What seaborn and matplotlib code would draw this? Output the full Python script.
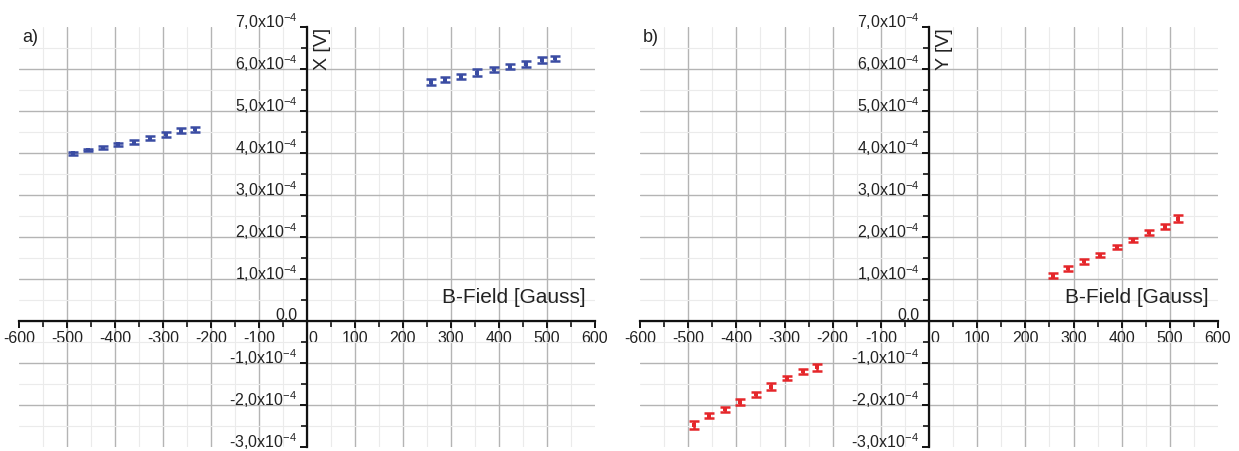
# Lock-in signal X and Y vs. magnetic field, two panels
import numpy as np
import pandas as pd
import matplotlib
matplotlib.use("Agg")
import matplotlib.pyplot as plt
import matplotlib.transforms as mtransforms
from matplotlib.ticker import MultipleLocator
import seaborn as sns

# B-field values [Gauss] (same for both panels)
b_neg = [-488, -456, -424, -393, -360, -327, -294, -262, -233]
b_pos = [258, 288, 321, 354, 390, 423, 456, 489, 517]

# X signal, units of 1e-4 V
x_neg = [3.99, 4.07, 4.13, 4.21, 4.27, 4.35, 4.45, 4.53, 4.56]
x_pos = [5.69, 5.74, 5.82, 5.91, 5.99, 6.05, 6.12, 6.22, 6.26]
x_neg_err = [0.03, 0.03, 0.04, 0.04, 0.05, 0.05, 0.06, 0.06, 0.06]
x_pos_err = [0.06, 0.06, 0.07, 0.08, 0.06, 0.06, 0.07, 0.07, 0.06]

# Y signal, units of 1e-4 V
y_neg = [-2.48, -2.25, -2.10, -1.93, -1.74, -1.56, -1.36, -1.20, -1.10]
y_pos = [1.08, 1.26, 1.42, 1.57, 1.76, 1.92, 2.11, 2.25, 2.44]
y_neg_err = [0.10, 0.07, 0.06, 0.08, 0.06, 0.08, 0.05, 0.06, 0.08]
y_pos_err = [0.06, 0.06, 0.06, 0.05, 0.05, 0.05, 0.06, 0.07, 0.08]

xticks = list(range(-600, 601, 100))
yticks = [-3, -2, -1, 0, 1, 2, 3, 4, 5, 6, 7]
ytick_labels = ["0,0" if v == 0 else "%d,0x10$^{-4}$" % v for v in yticks]

sns.set_style("white")
plt.rcParams['font.family'] = ['Liberation Sans', 'DejaVu Sans']
plt.rcParams['mathtext.fontset'] = 'custom'
plt.rcParams['mathtext.rm'] = 'Liberation Sans'
plt.rcParams['mathtext.it'] = 'Liberation Sans:italic'

fig = plt.figure(figsize=(12.39, 4.51), dpi=100)
ax_a = fig.add_axes([19 / 1239, 4 / 451, 576 / 1239, 420 / 451])
ax_b = fig.add_axes([640 / 1239, 4 / 451, 578 / 1239, 420 / 451])

panels = [
    (ax_a, x_neg + x_pos, x_neg_err + x_pos_err, "#3a4ca3", "X [V]", "a)", 22),
    (ax_b, y_neg + y_pos, y_neg_err + y_pos_err, "#e5262a", "Y [V]", "b)", 643),
]

for ax, vals, errs, color, ylab, tag, tag_x in panels:
    df = pd.DataFrame({"B": b_neg + b_pos,
                       "V": np.array(vals) * 1e-4,
                       "err": np.array(errs) * 1e-4})

    ax.errorbar(df["B"], df["V"], yerr=df["err"], fmt="none", ecolor=color,
                elinewidth=1.8, capsize=3.5, capthick=1.8, zorder=4)
    sns.scatterplot(data=df, x="B", y="V", ax=ax, marker="s", s=12,
                    color=color, edgecolor=color, linewidth=0, zorder=5)

    ax.set_xlim(-600, 600)
    ax.set_ylim(-3e-4, 7e-4)
    ax.set_xlabel("")
    ax.set_ylabel("")

    # axes through the origin
    ax.spines["left"].set_position(("data", 0))
    ax.spines["bottom"].set_position(("data", 0))
    ax.spines["top"].set_visible(False)
    ax.spines["right"].set_visible(False)
    for s in ["left", "bottom"]:
        ax.spines[s].set_linewidth(1.6)
        ax.spines[s].set_color("#111111")
        ax.spines[s].set_zorder(3)

    ax.set_xticks(xticks)
    ax.set_xticklabels([str(v) for v in xticks])
    ax.xaxis.set_minor_locator(MultipleLocator(50))
    ax.set_yticks([v * 1e-4 for v in yticks])
    ax.set_yticklabels(ytick_labels)
    ax.yaxis.set_minor_locator(MultipleLocator(0.5e-4))

    ax.tick_params(axis="both", which="major", direction="out", length=5,
                   width=1.4, color="#111111", labelsize=11.5, pad=2,
                   labelcolor="#222222", bottom=True, left=True)
    ax.tick_params(axis="both", which="minor", direction="out", length=4,
                   width=1.2, color="#111111", bottom=True, left=True)

    # grid
    ax.grid(True, which="major", color="#b4b4b4", linewidth=1.0, zorder=0)
    ax.grid(True, which="minor", color="#ebebeb", linewidth=0.8, zorder=0)
    ax.set_axisbelow(True)
    xg = ax.xaxis.get_gridlines()
    xg[0].set_visible(False)
    xg[-1].set_visible(False)
    yg = ax.yaxis.get_gridlines()
    yg[0].set_visible(False)
    yg[-1].set_visible(False)

    # y tick labels sit a bit above their ticks
    up = mtransforms.ScaledTranslation(0, 7 / 100, fig.dpi_scale_trans)
    for lab in ax.get_yticklabels():
        lab.set_transform(lab.get_transform() + up)
    zero_lab = ax.get_xticklabels()[6]
    zero_lab.set_transform(zero_lab.get_transform() +
                           mtransforms.ScaledTranslation(6 / 100, 0, fig.dpi_scale_trans))

    ax.text(33, 6.98e-4, ylab, rotation=90, ha="center", va="top",
            fontsize=14, color="#222222")
    ax.text(580, 0.57e-4, "B-Field [Gauss]", ha="right", va="center",
            fontsize=15, color="#222222")
    fig.text(tag_x / 1239, 1 - 38 / 451, tag, ha="left", va="center",
             fontsize=13, color="#222222")

fig.savefig("out.png", dpi=100)
